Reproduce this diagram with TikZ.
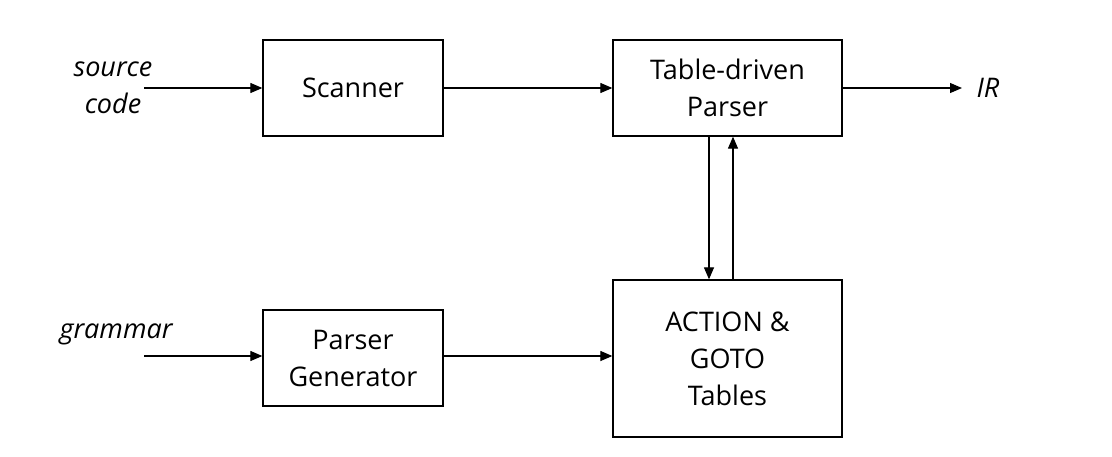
\documentclass[tikz,border=0pt]{standalone}
\usepackage{fontspec}
\setmainfont{Open Sans}
\usetikzlibrary{positioning,calc,arrows.meta}

\begin{document}
\begin{tikzpicture}[x=1pt,y=-1pt,line width=1.3pt]
		\tikzstyle{block}=[draw, rectangle, align=center, inner sep=0pt, font=\fontsize{27}{37}\selectfont];
		\tikzstyle{label}=[align=center, font=\fontsize{27}{37}\selectfont\itshape];
		\tikzstyle{flow}=[-{Triangle[length=12pt,width=10pt]}, line width=1.2pt];
		
		\useasboundingbox[fill=white] (0,0) rectangle (1112,456);
		
		% boxes
		\node[block, minimum width=180, minimum height=96] (scanner) at (353,88) {Scanner};
		\node[block, minimum width=229, minimum height=96] (parser) at (727.5,88) {Table-driven\\Parser};
		\node[block, minimum width=180, minimum height=96] (pgen) at (353,358) {Parser\\Generator};
		\node[block, minimum width=229, minimum height=157] (tables) at (727.5,358.5) {ACTION \&\\GOTO\\Tables};
		
		% inputs and output
		\node[label] (src) at (113,88) {source\\code};
		\node[label] (gram) at (116,334) {grammar};
		\node[label] (ir) at (988,88) {IR};
		\coordinate (srcin) at (144,88);
		\coordinate (gramin) at (144,356);
		\coordinate (irout) at (962,88);
		
		\draw[flow] (srcin) -- (scanner.west |- srcin);
		\draw[flow] (scanner.east) -- (parser.west);
		\draw[flow] (parser.east) -- (irout);
		\draw[flow] (gramin) -- (pgen.west |- gramin);
		\draw[flow] (pgen.east |- gramin) -- (tables.west |- gramin);
		
		% parser <-> tables
		\coordinate (dn) at ($(parser.south)+(-18.5,0)$);
		\coordinate (up) at ($(parser.south)+(5.5,0)$);
		\draw[flow] (dn) -- (dn |- tables.north);
		\draw[flow] (up |- tables.north) -- (up);
\end{tikzpicture}
\end{document}
